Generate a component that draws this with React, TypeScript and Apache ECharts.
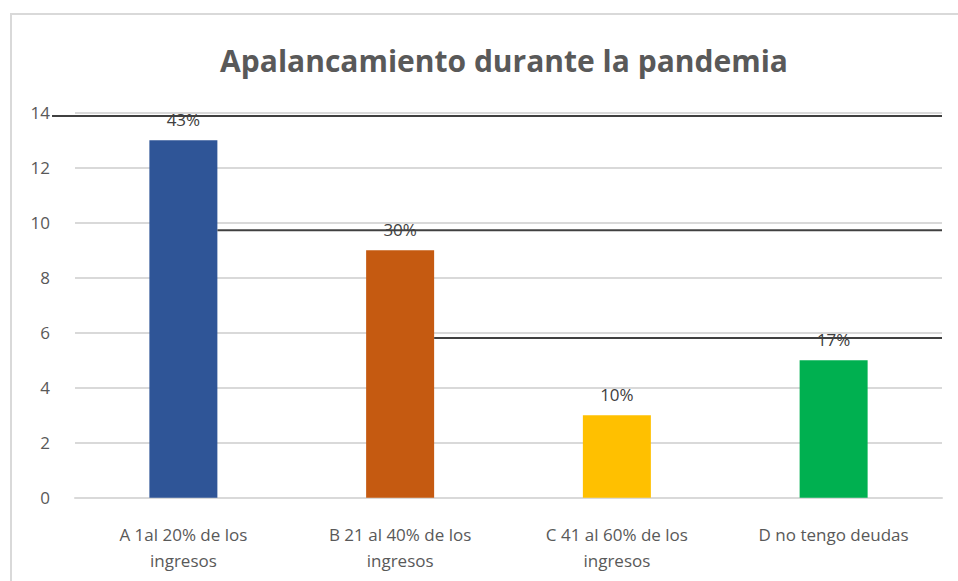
import React, { useEffect, useRef } from "react";
import * as echarts from "echarts";

const titleText = "Apalancamiento durante la pandemia";
const categories = [
  "A 1al 20% de los ingresos",
  "B 21 al 40% de los ingresos",
  "C 41 al 60% de los ingresos",
  "D no tengo deudas",
];
const values = [13, 9, 3, 5];
const percentLabels = ["43%", "30%", "10%", "17%"];
const barColors = ["#2F5597", "#C55A11", "#FFC000", "#00B050"];
const yTicks = { min: 0, max: 14, interval: 2 };
// stray dark rule lines drawn across the picture: [x start, x end] in category units, y value
const ruleLines: [number, number, number][] = [
  [-0.106, 4, 13.88],
  [0.657, 4, 9.73],
  [1.657, 4, 5.81],
];

export default function App() {
  const ref = useRef<HTMLDivElement>(null);
  useEffect(() => {
    document.body.style.margin = "0";
    const chart = echarts.init(ref.current!, null, { renderer: "svg" });
    const font = "'Open Sans', 'Liberation Sans', sans-serif";
    const gridLeft = 75;
    const gridRight = 16;
    const catWidth = (958 - gridLeft - gridRight) / categories.length;
    const xMin = ruleLines[0][0];
    chart.setOption({
      animation: false,
      backgroundColor: "#ffffff",
      title: {
        text: titleText,
        left: 499,
        top: 40,
        textAlign: "center",
        textStyle: { fontSize: 30, fontWeight: "bold", color: "#595959", fontFamily: font },
      },
      graphic: [
        {
          type: "rect",
          shape: { x: 11, y: 14, width: 1000, height: 700 },
          style: { fill: "none", stroke: "#d9d9d9", lineWidth: 2 },
          z: -1,
        },
      ],
      grid: [
        { left: gridLeft, right: gridRight, top: 112.7, bottom: 83.3 },
        { left: gridLeft + xMin * catWidth, right: gridRight, top: 112.7, bottom: 83.3 },
      ],
      xAxis: [
        {
          type: "category",
          gridIndex: 0,
          data: categories,
          axisLine: { show: true, lineStyle: { color: "#d9d9d9", width: 2 } },
          axisTick: { show: false },
          axisLabel: {
            color: "#595959",
            fontSize: 17,
            fontFamily: font,
            lineHeight: 26,
            margin: 24,
            interval: 0,
            formatter: (v: string) => v.replace(" ingresos", "\ningresos"),
          },
        },
        { type: "value", gridIndex: 1, min: xMin, max: categories.length, show: false },
      ],
      yAxis: [
        {
          type: "value",
          gridIndex: 0,
          min: yTicks.min,
          max: yTicks.max,
          interval: yTicks.interval,
          axisLine: { show: false },
          axisTick: { show: false },
          splitLine: { lineStyle: { color: "#d9d9d9", width: 2 } },
          axisLabel: { color: "#595959", fontSize: 17, fontFamily: font, margin: 25 },
        },
        {
          type: "value",
          gridIndex: 1,
          min: yTicks.min,
          max: yTicks.max,
          show: false,
          splitLine: { show: false },
        },
      ],
      series: [
        {
          type: "bar",
          xAxisIndex: 0,
          yAxisIndex: 0,
          barWidth: 68,
          z: 3,
          data: values.map((v, i) => ({ value: v, itemStyle: { color: barColors[i] } })),
          label: {
            show: true,
            position: "top",
            distance: 12,
            fontSize: 17,
            fontFamily: font,
            color: "#404040",
            formatter: (p: any) => percentLabels[p.dataIndex],
          },
        },
        ...ruleLines.map(([x0, x1, y]) => ({
          type: "line",
          xAxisIndex: 1,
          yAxisIndex: 1,
          symbol: "none",
          silent: true,
          z: 4,
          lineStyle: { color: "#404040", width: 2 },
          data: [
            [x0, y],
            [x1, y],
          ],
        })),
      ],
    });
    return () => chart.dispose();
  }, []);
  return <div ref={ref} style={{ width: 958, height: 581 }} />;
}
